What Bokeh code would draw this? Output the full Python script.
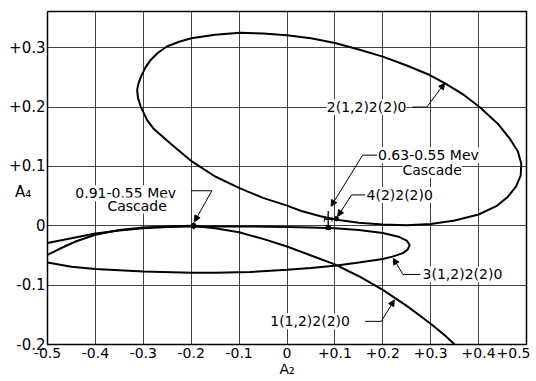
from bokeh.plotting import figure
from bokeh.models import FixedTicker, Label, Arrow, NormalHead
from bokeh.embed import file_html
from bokeh.resources import INLINE
import numpy as np

# ---------------- data ----------------
x_ticks = [-0.5, -0.4, -0.3, -0.2, -0.1, 0.0, 0.1, 0.2, 0.3, 0.4, 0.5]
x_tick_labels = ["-0.5", "-0.4", "-0.3", "-0.2", "-0.1", "0", "+0.1", "+0.2", "+0.3", "+0.4", "+0.5"]
y_ticks = [-0.2, -0.1, 0.0, 0.1, 0.2, 0.3]
y_tick_labels = ["-0.2", "-0.1", "0", "+0.1", "+0.2", "+0.3"]

# 2(1,2)2(2)0  (large closed ellipse)
curve2_a2 = [-0.313, -0.310, -0.305, -0.296, -0.285, -0.270, -0.251, -0.225, -0.200, -0.150,
             -0.098, -0.050, 0.000, 0.050, 0.100, 0.150, 0.200, 0.250, 0.298, 0.330,
             0.370, 0.402, 0.440, 0.465, 0.482, 0.489, 0.488, 0.478, 0.460, 0.437,
             0.400, 0.350, 0.300, 0.250, 0.200, 0.150, 0.104, 0.070, 0.030, 0.000,
             -0.050, -0.098, -0.150, -0.198, -0.244, -0.279, -0.292, -0.305, -0.311, -0.313]
curve2_a4 = [0.229, 0.240, 0.251, 0.266, 0.279, 0.291, 0.302, 0.310, 0.316, 0.322,
             0.325, 0.324, 0.321, 0.316, 0.308, 0.297, 0.285, 0.270, 0.254, 0.240,
             0.220, 0.200, 0.172, 0.147, 0.125, 0.105, 0.085, 0.066, 0.048, 0.033,
             0.019, 0.009, 0.003, 0.001, 0.002, 0.005, 0.010, 0.016, 0.025, 0.034,
             0.047, 0.063, 0.083, 0.108, 0.139, 0.164, 0.178, 0.200, 0.215, 0.229]

# 3(1,2)2(2)0  (narrow ellipse, open at the left edge)
curve3_a2 = [-0.50, -0.45, -0.40, -0.35, -0.30, -0.25, -0.20, -0.10, 0.00, 0.05,
             0.10, 0.15, 0.20, 0.235, 0.250, 0.256, 0.252, 0.242, 0.220, 0.200,
             0.150, 0.104, 0.050, 0.000, -0.077, -0.150, -0.200, -0.300, -0.400, -0.450, -0.500]
curve3_a4 = [-0.029, -0.021, -0.013, -0.008, -0.004, -0.002, -0.001, -0.001, -0.002, -0.003,
             -0.004, -0.007, -0.012, -0.019, -0.025, -0.032, -0.040, -0.046, -0.052, -0.056,
             -0.062, -0.067, -0.071, -0.074, -0.078, -0.079, -0.079, -0.077, -0.073, -0.069, -0.062]

# 1(1,2)2(2)0
curve1_a2 = [-0.50, -0.47, -0.44, -0.40, -0.35, -0.30, -0.25, -0.20, -0.15, -0.10,
             -0.05, 0.00, 0.05, 0.10, 0.15, 0.20, 0.25, 0.30, 0.33, 0.35]
curve1_a4 = [-0.049, -0.037, -0.026, -0.015, -0.007, -0.003, -0.001, 0.000, -0.004, -0.011,
             -0.022, -0.035, -0.050, -0.065, -0.085, -0.108, -0.135, -0.165, -0.185, -0.200]

# measured cascades: 0.91-0.55 Mev, 0.63-0.55 Mev
meas_a2 = [-0.195, 0.086]
meas_a4 = [0.000, 0.011]
meas_a2_err = [0.000, 0.008]
meas_a4_err = [0.006, 0.014]

# 4(2)2(2)0 point
pt4_a2 = [0.103]
pt4_a4 = [0.012]

# ---------------- figure ----------------
FONT = "DejaVu Sans"
A4_TICK = 0.057  # where the "A4" name sits on the vertical axis
p = figure(width=530, height=380, x_range=(-0.5, 0.5), y_range=(-0.2, 0.361),
           output_backend="svg", toolbar_location=None,
           min_border_left=47, min_border_right=4, min_border_top=11, min_border_bottom=36)
p.background_fill_color = "white"
p.border_fill_color = "white"
p.outline_line_color = "black"
p.outline_line_width = 1.5

p.xaxis.ticker = FixedTicker(ticks=x_ticks)
p.yaxis.ticker = FixedTicker(ticks=y_ticks + [A4_TICK])
p.xaxis.major_label_overrides = {t: s for t, s in zip(x_ticks, x_tick_labels)}
y_over = {t: s for t, s in zip(y_ticks, y_tick_labels)}
y_over[A4_TICK] = "A\u2084" + "\u00a0" * 3
p.yaxis.major_label_overrides = y_over
for ax in (p.xaxis, p.yaxis):
    ax.axis_line_color = None
    ax.major_tick_in = 0
    ax.major_tick_out = 0
    ax.minor_tick_line_color = None
    ax.major_label_text_font = FONT
    ax.major_label_text_color = "black"
p.xaxis.major_label_text_font_size = "14px"
p.yaxis.major_label_text_font_size = "15px"
p.xaxis.major_label_standoff = 3
p.yaxis.major_label_standoff = 2

p.xaxis.axis_label = "A\u2082"
p.xaxis.axis_label_text_font = FONT
p.xaxis.axis_label_text_font_size = "14px"
p.xaxis.axis_label_text_font_style = "normal"
p.xaxis.axis_label_text_color = "black"
p.xaxis.axis_label_standoff = 0

p.xgrid.ticker = FixedTicker(ticks=x_ticks)
p.ygrid.ticker = FixedTicker(ticks=y_ticks)
p.grid.grid_line_color = "#222222"
p.grid.grid_line_width = 1
p.grid.grid_line_alpha = 0.85

# curves
for xs, ys in ((curve2_a2, curve2_a4), (curve3_a2, curve3_a4), (curve1_a2, curve1_a4)):
    p.line(xs, ys, line_color="black", line_width=2)

# measured points with error bars
ma2 = np.array(meas_a2); ma4 = np.array(meas_a4)
ea2 = np.array(meas_a2_err); ea4 = np.array(meas_a4_err)
p.segment(ma2, ma4 - ea4, ma2, ma4 + ea4, line_color="black", line_width=1.3)
p.segment(ma2 - ea2, ma4, ma2 + ea2, ma4, line_color="black", line_width=1.3)
p.segment(ma2 - ea2, ma4 - 0.004, ma2 - ea2, ma4 + 0.004, line_color="black", line_width=1)
p.segment(ma2 + ea2, ma4 - 0.004, ma2 + ea2, ma4 + 0.004, line_color="black", line_width=1)
p.scatter(ma2[:1], ma4[:1], size=5, color="black")
p.scatter(ma2[1:], (ma4 - ea4)[1:], marker="square", size=4, color="black")
p.scatter(pt4_a2, pt4_a4, size=4.5, color="black")

# ---------------- annotations ----------------
def label(x, y, text, align="left"):
    p.add_layout(Label(x=x, y=y, text=text, text_font=FONT, text_font_size="14px",
                       text_color="black", text_align=align, text_baseline="middle",
                       background_fill_color="white"))

def leader(xh0, xh1, yh, xt, yt):
    p.line([xh0, xh1], [yh, yh], line_color="black", line_width=1)
    p.add_layout(Arrow(x_start=xh0 if xt < xh0 else xh1, y_start=yh, x_end=xt, y_end=yt,
                       line_width=1, line_color="black",
                       end=NormalHead(size=6, fill_color="black", line_color="black")))

label(0.083, 0.200, "2(1,2)2(2)0")
leader(0.262, 0.292, 0.200, 0.329, 0.240)

label(0.190, 0.119, "0.63-0.55 Mev")
label(0.241, 0.094, "Cascade")
leader(0.158, 0.188, 0.119, 0.092, 0.033)

label(0.166, 0.052, "4(2)2(2)0")
leader(0.135, 0.163, 0.052, 0.106, 0.016)

label(-0.442, 0.055, "0.91-0.55 Mev")
label(-0.375, 0.034, "Cascade")
leader(-0.200, -0.157, 0.059, -0.193, 0.007)

label(0.283, -0.082, "3(1,2)2(2)0")
leader(0.242, 0.278, -0.082, 0.222, -0.055)

label(-0.035, -0.161, "1(1,2)2(2)0")
leader(0.163, 0.197, -0.161, 0.224, -0.125)

open("out.html", "w").write(file_html(p, INLINE))
